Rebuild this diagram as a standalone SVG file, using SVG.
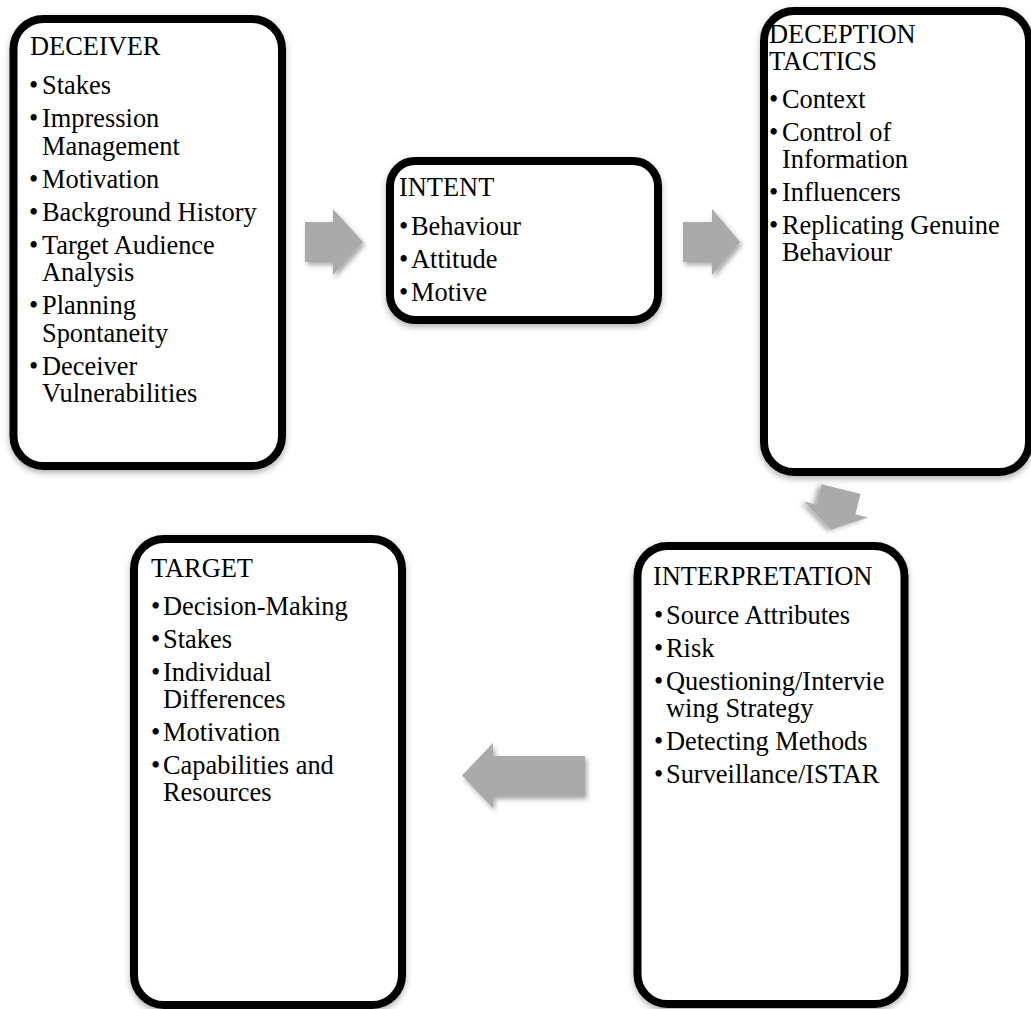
<svg xmlns="http://www.w3.org/2000/svg" width="1031" height="1009" viewBox="0 0 1031 1009">
<style>
.box{fill:#fff;stroke:#000;stroke-width:8}
.arr{fill:#aaaaaa}
text{font-family:"Liberation Serif","Times New Roman",serif;font-size:26.4px;fill:#000}
</style>
<defs>
<filter id="bs" x="-10%" y="-10%" width="120%" height="120%">
<feDropShadow dx="0" dy="3" stdDeviation="3" flood-color="#000" flood-opacity="0.3"/>
</filter>
<filter id="as" x="-30%" y="-30%" width="160%" height="160%">
<feDropShadow dx="2" dy="3" stdDeviation="2.5" flood-color="#000" flood-opacity="0.35"/>
</filter>
</defs>
<rect width="1031" height="1009" fill="#fff"/>
<g id="connectors">
<polygon class="arr" filter="url(#as)" points="305,222 333,222 333,209 363,242 333,275 333,262 305,262"/>
<polygon class="arr" filter="url(#as)" points="683,222 712,222 712,209 740,242 712,275 712,262 683,262"/>
<polygon class="arr" filter="url(#as)" transform="translate(836,509.5) rotate(104)" points="-21,-20 0,-20 0,-33 21,0 0,33 0,20 -21,20"/>
<polygon class="arr" filter="url(#as)" points="585,756 493,756 493,743 462,775.5 493,808 493,796 585,796"/>
</g>
<g id="deceiver">
<rect class="box" filter="url(#bs)" x="13.5" y="19" width="268.5" height="447" rx="30"/>
<text x="30" y="55">DECEIVER</text>
<text><tspan x="29" y="94">•</tspan><tspan x="42">Stakes</tspan></text>
<text><tspan x="29" y="127">•</tspan><tspan x="42">Impression</tspan><tspan x="42" dy="27.5">Management</tspan></text>
<text><tspan x="29" y="187.5">•</tspan><tspan x="42">Motivation</tspan></text>
<text><tspan x="29" y="220.5">•</tspan><tspan x="42">Background History</tspan></text>
<text><tspan x="29" y="253.5">•</tspan><tspan x="42">Target Audience</tspan><tspan x="42" dy="27.5">Analysis</tspan></text>
<text><tspan x="29" y="314">•</tspan><tspan x="42">Planning</tspan><tspan x="42" dy="27.5">Spontaneity</tspan></text>
<text><tspan x="29" y="374.5">•</tspan><tspan x="42">Deceiver</tspan><tspan x="42" dy="27.5">Vulnerabilities</tspan></text>
</g>
<g id="intent">
<rect class="box" filter="url(#bs)" x="390" y="161" width="268" height="159" rx="25"/>
<text x="399" y="196">INTENT</text>
<text><tspan x="399" y="235">•</tspan><tspan x="411">Behaviour</tspan></text>
<text><tspan x="399" y="268">•</tspan><tspan x="411">Attitude</tspan></text>
<text><tspan x="399" y="301">•</tspan><tspan x="411">Motive</tspan></text>
</g>
<g id="deception-tactics">
<rect class="box" filter="url(#bs)" x="764" y="11" width="265" height="461" rx="30"/>
<text><tspan x="769" y="43">DECEPTION</tspan><tspan x="769" dy="27">TACTICS</tspan></text>
<text><tspan x="769" y="107.5">•</tspan><tspan x="782">Context</tspan></text>
<text><tspan x="769" y="140.5">•</tspan><tspan x="782">Control of</tspan><tspan x="782" dy="27">Information</tspan></text>
<text><tspan x="769" y="200.5">•</tspan><tspan x="782">Influencers</tspan></text>
<text><tspan x="769" y="233.5">•</tspan><tspan x="782">Replicating Genuine</tspan><tspan x="782" dy="27">Behaviour</tspan></text>
</g>
<g id="interpretation">
<rect class="box" filter="url(#bs)" x="637.5" y="546" width="267" height="458" rx="30"/>
<text x="653" y="585">INTERPRETATION</text>
<text><tspan x="654" y="623.5">•</tspan><tspan x="666">Source Attributes</tspan></text>
<text><tspan x="654" y="656.5">•</tspan><tspan x="666">Risk</tspan></text>
<text><tspan x="654" y="689.5">•</tspan><tspan x="666">Questioning/Intervie</tspan><tspan x="666" dy="27">wing Strategy</tspan></text>
<text><tspan x="654" y="749.5">•</tspan><tspan x="666">Detecting Methods</tspan></text>
<text><tspan x="654" y="782.5">•</tspan><tspan x="666">Surveillance/ISTAR</tspan></text>
</g>
<g id="target">
<rect class="box" filter="url(#bs)" x="134" y="539" width="268" height="466" rx="30"/>
<text x="151" y="577">TARGET</text>
<text><tspan x="151" y="615">•</tspan><tspan x="163">Decision-Making</tspan></text>
<text><tspan x="151" y="648">•</tspan><tspan x="163">Stakes</tspan></text>
<text><tspan x="151" y="681">•</tspan><tspan x="163">Individual</tspan><tspan x="163" dy="27">Differences</tspan></text>
<text><tspan x="151" y="741">•</tspan><tspan x="163">Motivation</tspan></text>
<text><tspan x="151" y="774">•</tspan><tspan x="163">Capabilities and</tspan><tspan x="163" dy="27">Resources</tspan></text>
</g>
</svg>
